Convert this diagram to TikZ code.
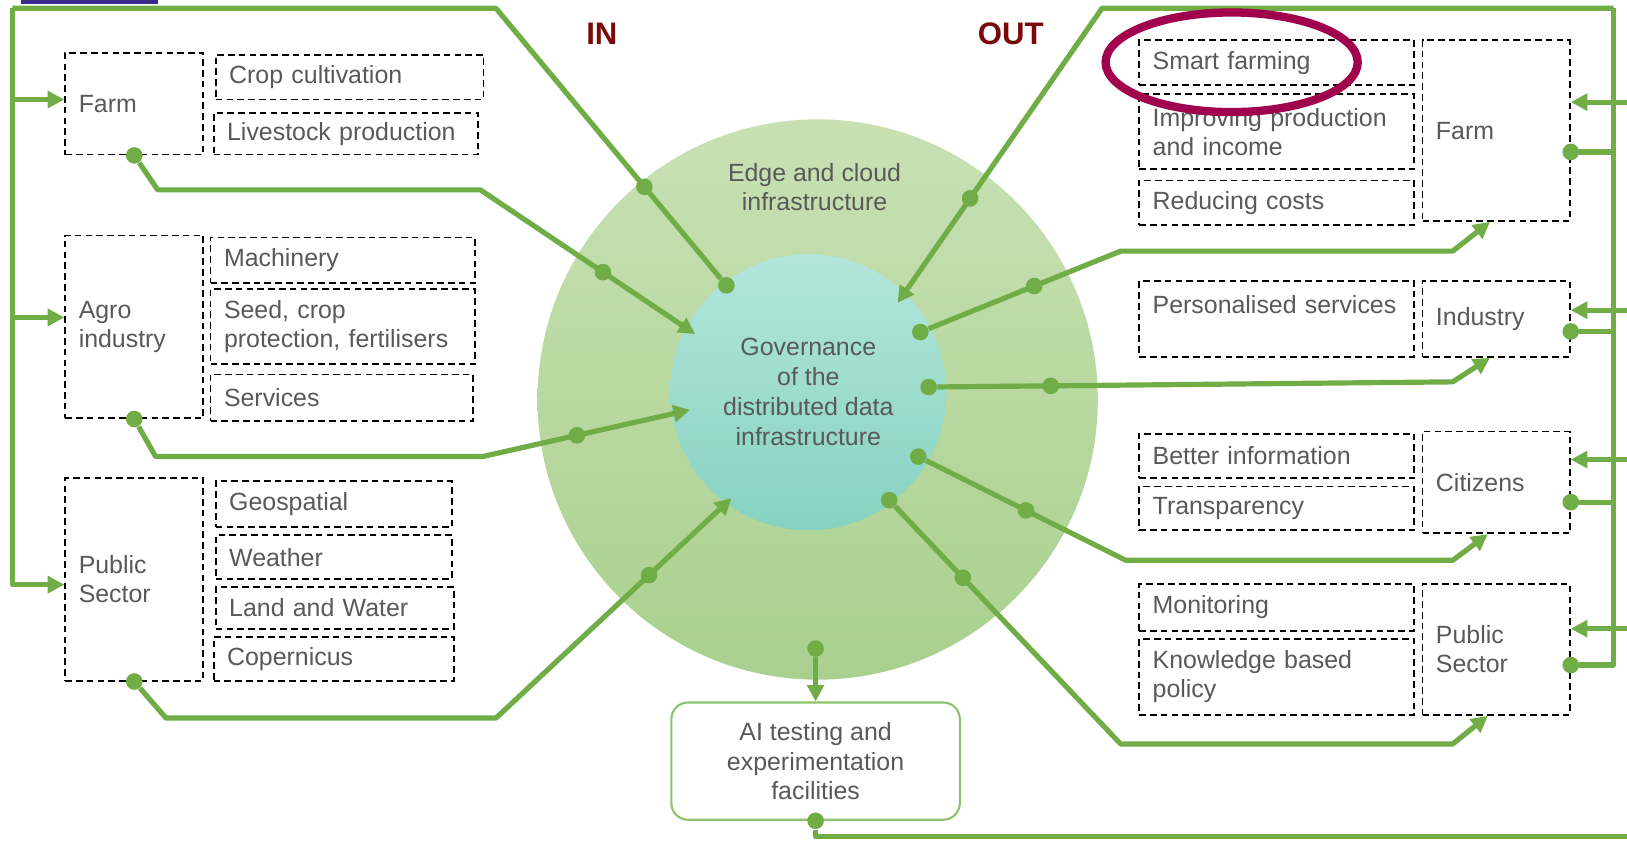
\documentclass[tikz,border=0pt]{standalone}
\usepackage{fontspec}
\setmainfont{Liberation Sans}
\usepackage{xcolor}
\usepackage{tikz}
\usetikzlibrary{shapes.geometric, arrows.meta}

\definecolor{lgreen}{HTML}{70AD47}
\definecolor{aigreen}{HTML}{8CC26A}
\definecolor{txtgray}{HTML}{595959}
\definecolor{inred}{HTML}{7A0A0A}
\definecolor{marker}{HTML}{A0024E}
\definecolor{logo}{HTML}{3B2A8C}
\definecolor{ringtop}{HTML}{C8E1B4}
\definecolor{ringbot}{HTML}{A9D08E}
\definecolor{coretop}{HTML}{B3E6DC}
\definecolor{corebot}{HTML}{86D2C2}

\begin{document}
\begin{tikzpicture}[x=0.5pt, y=-0.5pt, font=\fontsize{12}{14}\selectfont,
    link/.style={draw=lgreen, line width=2.5pt, line join=round},
    arr/.style={link, -{Triangle[length=8pt, width=8pt]}},
    dot/.style={circle, fill=lgreen, inner sep=0pt, minimum size=8pt},
    dbox/.style={draw=black, dash pattern=on 3.2pt off 2pt, line width=0.9pt,
                 anchor=north west, align=left, text=txtgray, inner xsep=6.5pt, inner ysep=0pt},
    title/.style={font=\fontsize{15}{18}\selectfont\bfseries, text=inred}]
        \useasboundingbox (0,0) rectangle (1568,811);
        \fill[white] (0,0) rectangle (1568,811);
        \fill[logo] (20,0) rectangle (152,4);

        % rings
        \node[circle, minimum size=270pt, inner sep=0pt, top color=ringtop, bottom color=ringbot]
          (edge) at (788,385) {};
        \node[circle, minimum size=133pt, inner sep=0pt, top color=coretop, bottom color=corebot,
              align=center, text=txtgray, font=\fontsize{12}{14.5}\selectfont]
          (gov) at (779,378) {Governance\\of the\\distributed data\\infrastructure};
        \node[align=center, text=txtgray] (edgetxt) at (785,180) {Edge and cloud\\infrastructure};

        \node[title] (inlbl) at (580,33) {IN};
        \node[title] (outlbl) at (974,33) {OUT};

        % left side
        \node[dbox, text width=53.5pt, minimum height=49pt] (farmL) at (62,50) {Farm};
        \node[dbox, text width=116pt, minimum height=21.5pt] (crop) at (207,52) {Crop cultivation};
        \node[dbox, text width=114.5pt, minimum height=20pt] (live) at (205,108) {Livestock production};
        \node[dbox, text width=53.5pt, minimum height=88pt] (agro) at (62,226) {Agro\\industry};
        \node[dbox, text width=114.5pt, minimum height=22pt] (mach) at (202,228) {Machinery};
        \node[dbox, text width=114.5pt, minimum height=36pt] (seed) at (202,278) {Seed, crop\\protection, fertilisers};
        \node[dbox, text width=113.5pt, minimum height=22.5pt] (serv) at (202,360) {Services};
        \node[dbox, text width=53.5pt, minimum height=97.5pt] (pubL) at (62,460) {Public\\Sector};
        \node[dbox, text width=101pt, minimum height=22pt] (geo) at (207,463) {Geospatial};
        \node[dbox, text width=101pt, minimum height=21pt] (weat) at (207,515) {Weather};
        \node[dbox, text width=102pt, minimum height=20pt] (land) at (207,565) {Land and Water};
        \node[dbox, text width=103pt, minimum height=21pt] (cop) at (205,613) {Copernicus};

        % right side
        \node[dbox, text width=119.5pt, minimum height=21.5pt] (smart) at (1097,38) {Smart farming};
        \node[dbox, text width=119.5pt, minimum height=36pt] (impr) at (1097,90) {Improving production\\and income};
        \node[dbox, text width=119.5pt, minimum height=21.5pt] (redu) at (1097,173) {Reducing costs};
        \node[dbox, text width=58pt, minimum height=87pt] (farmR) at (1370,38) {Farm};
        \node[dbox, text width=119.5pt, minimum height=36.5pt] (pers) at (1097,270) {Personalised services\\\mbox{}};
        \node[dbox, text width=58pt, minimum height=36.5pt] (ind) at (1370,270) {Industry};
        \node[dbox, text width=119.5pt, minimum height=21.5pt] (better) at (1097,417) {Better information};
        \node[dbox, text width=119.5pt, minimum height=21pt] (trans) at (1097,468) {Transparency};
        \node[dbox, text width=58pt, minimum height=49pt] (cit) at (1370,415) {Citizens};
        \node[dbox, text width=119.5pt, minimum height=22.5pt] (mon) at (1097,562) {Monitoring};
        \node[dbox, text width=119.5pt, minimum height=36.5pt] (know) at (1097,615) {Knowledge based\\policy};
        \node[dbox, text width=58pt, minimum height=63pt] (pubR) at (1370,562) {Public\\Sector};

        \node[draw=aigreen, line width=1pt, rounded corners=8pt, minimum width=139pt, minimum height=56.5pt,
              align=center, text=txtgray] (ai) at (786,733.5) {AI testing and\\experimentation\\facilities};

        % end points on the core
        \node[dot] (gTL) at (700,275) {};
        \coordinate (gFarm) at (670,322);
        \coordinate (gAgro) at (665,395);
        \coordinate (gPub) at (705,480);
        \coordinate (gTR) at (865,292);
        \node[dot] (gFarmR) at (887,320) {};
        \node[dot] (gInd) at (895,373) {};
        \node[dot] (gCit) at (885,440) {};
        \node[dot] (gPubR) at (857,482) {};
        \node[dot] (aiIn) at (786,625) {};

        % IN
        \node[dot] (fLdot) at (farmL.south) {};
        \node[dot] (aLdot) at (agro.south) {};
        \node[dot] (pLdot) at (pubL.south) {};
        \draw[arr] (fLdot) -- (152,183) -- (463,183) -- node[dot, pos=.57] (fLmid) {} (gFarm);
        \draw[arr] (aLdot) -- (150,440) -- (465,440) -- node[dot, pos=.455] (aLmid) {} (gAgro);
        \draw[arr] (pLdot) -- (160,692) -- (478,692) -- node[dot, pos=.65] (pLmid) {} (gPub);

        \coordinate (ltop) at (12,8);
        \draw[link] (gTL) -- node[dot, pos=.34] (tlmid) {} (478,8) -- (ltop);
        \foreach \b/\s in {farmL/2, agro/4.5, pubL/-2.5}
          \draw[arr] (ltop) |- ([yshift=\s pt]\b.west);

        % OUT
        \coordinate (rtop) at (1555,8);
        \draw[arr] (rtop) -- (1062,8) -- node[dot, pos=.645] (trmid) {} (gTR);
        \node[dot] (fRdot) at ([yshift=-10.25pt]farmR.east) {};
        \node[dot] (iRdot) at ([yshift=-6pt]ind.east) {};
        \node[dot] (cRdot) at ([yshift=-9.5pt]cit.east) {};
        \node[dot] (pRdot) at ([yshift=-7.5pt]pubR.east) {};
        \foreach \d in {fRdot, iRdot, cRdot, pRdot}
          \draw[link] (\d) -| (rtop);

        \draw[arr] (gFarmR) -- node[dot, pos=.55] (frmid) {} (1080,242) -- (1400,242) -- ([xshift=-3pt]farmR.south);
        \draw[arr] (gInd) -- node[dot, pos=.22] (imid) {} (1400,368) -- ([xshift=-3pt]ind.south);
        \draw[arr] (gCit) -- node[dot, pos=.5] (cmid) {} (1085,540) -- (1400,540) -- ([xshift=-4pt]cit.south);
        \draw[arr] (gPubR) -- node[dot, pos=.3] (pmid) {} (1080,717) -- (1400,717) -- ([xshift=-4pt]pubR.south);

        % AI facilities
        \draw[arr] (aiIn) -- (ai.north);
        \node[dot] (aiOut) at (ai.south) {};
        \coordinate (rfar) at (1585,806);
        \draw[link] (aiOut) |- (rfar);
        \foreach \b/\s in {farmR/13.75, ind/4.25, cit/11, pubR/10}
          \draw[arr] (rfar) |- ([yshift=\s pt]\b.east);

        % highlight
        \node[draw=marker, line width=4pt, ellipse, inner sep=0pt, minimum width=121.5pt, minimum height=48pt]
          (hlsmart) at (1187,60) {};
      \end{tikzpicture}
\end{document}
